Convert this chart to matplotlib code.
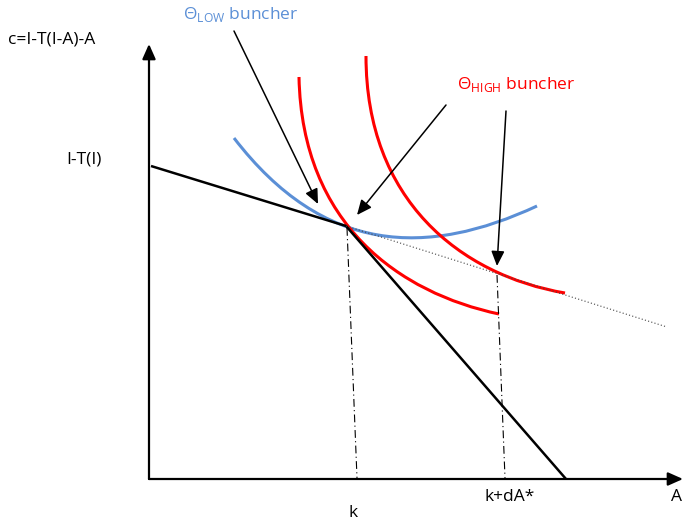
import matplotlib
matplotlib.use("Agg")
import matplotlib.pyplot as plt
from matplotlib.path import Path
from matplotlib.patches import PathPatch

plt.rcParams['font.family'] = ['Open Sans', 'DejaVu Sans']
plt.rcParams['mathtext.fontset'] = 'custom'
plt.rcParams['mathtext.rm'] = 'Open Sans'

# schematic coordinates (picture units, y grows downwards)
origin = (149, 479)
x_axis_end = 683
y_axis_end = 44

# budget line with kink at k
budget_A = [151, 346, 566]
budget_c = [166, 226, 479]
# extension of the first segment (dotted)
ext_A = [346, 667]
ext_c = [226, 327]

# drop lines to k and k+dA*
drop_k_A = [347, 357]
drop_k_c = [228, 478]
drop_dA_A = [497, 505]
drop_dA_c = [275, 478]

# indifference curves as cubic bezier control points
low_curve = [(234, 138), (324, 255), (427, 257), (537, 206)]
high_curve_1 = [(299, 77), (302, 225), (400, 293), (499, 314)]
high_curve_2 = [(366, 56), (366, 200), (460, 275), (565, 293)]

# pointer arrows (start, tip)
low_arrow = [(234, 31), (318, 204)]
high_arrow_1 = [(446, 105), (357, 215)]
high_arrow_2 = [(506, 111), (497, 266)]

blue = '#5B8FD6'
red = '#FF0000'

fig = plt.figure(figsize=(6.85, 5.26), dpi=100)
ax = fig.add_axes([0, 0, 1, 1])
ax.set_xlim(0, 685)
ax.set_ylim(526, 0)
ax.axis('off')

# axes with arrow heads
head = '-|>,head_length=0.45,head_width=0.2'
ax.annotate('', xy=(x_axis_end, origin[1]), xytext=origin,
            arrowprops=dict(arrowstyle=head, color='black', lw=1.6,
                            mutation_scale=20, shrinkA=0, shrinkB=0))
ax.annotate('', xy=(origin[0], y_axis_end), xytext=origin,
            arrowprops=dict(arrowstyle=head, color='black', lw=1.6,
                            mutation_scale=20, shrinkA=0, shrinkB=0))

ax.plot(budget_A, budget_c, color='black', lw=1.8, solid_capstyle='butt')
ax.plot(ext_A, ext_c, color='#444444', lw=0.8, ls=(0, (1, 2)))
ax.plot(drop_k_A, drop_k_c, color='black', lw=0.8, ls=(0, (7, 3, 1, 3)))
ax.plot(drop_dA_A, drop_dA_c, color='black', lw=0.8, ls=(0, (7, 3, 1, 3)))

codes = [Path.MOVETO, Path.CURVE4, Path.CURVE4, Path.CURVE4]
for pts, col in [(low_curve, blue), (high_curve_1, red), (high_curve_2, red)]:
    ax.add_patch(PathPatch(Path(pts, codes), fill=False, edgecolor=col,
                           lw=2.2, capstyle='butt'))

for start, tip in [low_arrow, high_arrow_1, high_arrow_2]:
    ax.annotate('', xy=tip, xytext=start,
                arrowprops=dict(arrowstyle=head, color='black', lw=1.1,
                                mutation_scale=20, shrinkA=0, shrinkB=0))

fs = 12.5
ax.text(8, 40, 'c=I-T(I-A)-A', fontsize=fs, ha='left', va='center')
ax.text(102, 160, 'I-T(I)', fontsize=fs, ha='right', va='center')
ax.text(183, 15, r'Θ$_{\mathrm{LOW}}$ buncher', fontsize=fs, color=blue,
        ha='left', va='center')
ax.text(457, 85, r'Θ$_{\mathrm{HIGH}}$ buncher', fontsize=fs, color=red,
        ha='left', va='center')
ax.text(353, 513, 'k', fontsize=fs, ha='center', va='center')
ax.text(510, 497, 'k+dA*', fontsize=fs, ha='center', va='center')
ax.text(677, 497, 'A', fontsize=fs, ha='center', va='center')

fig.savefig('out.png', dpi=100)
